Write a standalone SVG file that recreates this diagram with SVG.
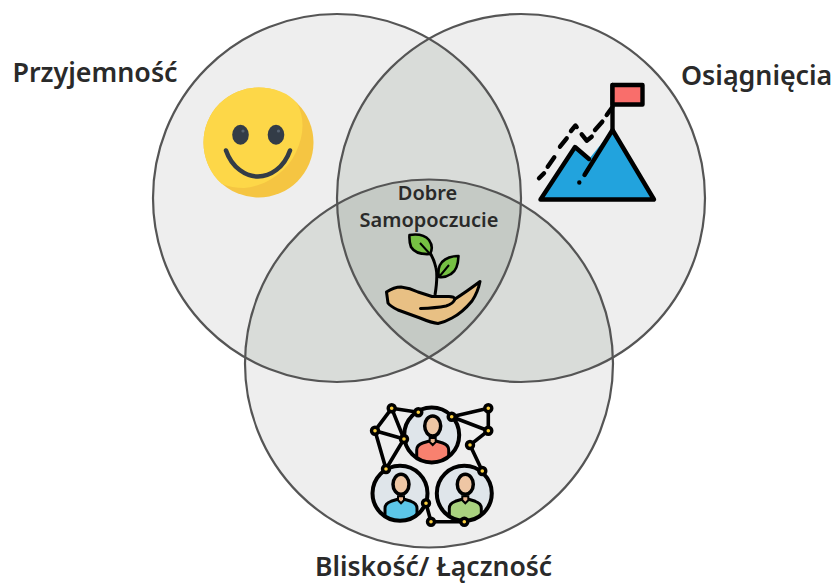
<svg xmlns="http://www.w3.org/2000/svg" width="832" height="584" viewBox="0 0 832 584">
<style>
.lbl{font-family:"Noto Sans","Open Sans","Liberation Sans",sans-serif;font-weight:600;fill:#2a2a2a}
.big{font-size:26.800px}.small{font-size:20px}
.ring{fill:none;stroke:#555;stroke-width:2.2}
.k{fill:none;stroke:#000;stroke-width:4.400;stroke-linecap:round;stroke-linejoin:round}
.e{stroke:#000;stroke-width:3.600;fill:none}
.n{fill:#fbcf3f;stroke:#000;stroke-width:3.400}
</style>
<defs>
<circle id="ca" cx="337" cy="198" r="184"/>
<circle id="cb" cx="521" cy="198" r="184"/>
<circle id="cc" cx="429" cy="363.500" r="184"/>
<clipPath id="pa"><use href="#ca"/></clipPath>
<clipPath id="pb"><use href="#cb"/></clipPath>
<clipPath id="pcirc"><circle r="27"/></clipPath>
<g id="person">
<circle r="27.500" fill="#dfe5ea"/>
<g clip-path="url(#pcirc)">
<path d="M-15 30V15Q-15 10-9 8L1 5L11 8Q17 10 17 15V30Z" fill="var(--c)" stroke="#000" stroke-width="3" stroke-linejoin="round"/>
</g>
<path d="M-2 3V7L1 10L4 7V3Z" fill="#e9b690" stroke="#000" stroke-width="2"/>
<ellipse cx="1" cy="-9" rx="8" ry="10" fill="#eec6a4" stroke="#000" stroke-width="3.500"/>
<circle r="27.500" fill="none" stroke="#000" stroke-width="4"/>
</g>
</defs>
<rect width="832" height="584" fill="#fff"/>
<g id="venn">
<use href="#ca" fill="#eeeeee"/>
<use href="#cb" fill="#eeeeee"/>
<use href="#cc" fill="#eeeeee"/>
<g clip-path="url(#pa)"><use href="#cb" fill="#d9dcd9"/></g>
<g clip-path="url(#pa)"><use href="#cc" fill="#d9dcd9"/></g>
<g clip-path="url(#pb)"><use href="#cc" fill="#d9dcd9"/></g>
<g clip-path="url(#pa)"><g clip-path="url(#pb)"><use href="#cc" fill="#c5cac5"/></g></g>
<use href="#ca" class="ring"/>
<use href="#cb" class="ring"/>
<use href="#cc" class="ring"/>
</g>
<g id="przyjemnosc">
<text class="lbl big" x="12.500" y="82">Przyjemność</text>
<circle cx="258.500" cy="142.500" r="55" fill="#f5c542"/>
<path d="M203.500 142.500A55 55 0 0 1 258.500 87.500Q283 87.500 297 103C305 118 304 136 296 152C288 170 268 186 244 188Q232 188 222 184C210 174 203.500 158 203.500 142.500Z" fill="#fdd748"/>
<ellipse cx="240.500" cy="134.700" rx="8.300" ry="10" fill="#333c47"/>
<ellipse cx="276" cy="134.700" rx="8.300" ry="10" fill="#333c47"/>
<circle cx="243" cy="131" r="1.600" fill="#566270"/>
<circle cx="278.500" cy="131" r="1.600" fill="#566270"/>
<path d="M226 150.500C232 168 246 176.500 258 176.500S284 168 290 150.500" fill="none" stroke="#333c47" stroke-width="4.500" stroke-linecap="round"/>
</g>
<g id="osiagniecia">
<text class="lbl big" x="681" y="84.500">Osiągnięcia</text>
<path class="k" d="M612.500 130V85"/>
<rect class="k" x="612.500" y="85" width="30" height="19.500" style="fill:#f96e6b"/>
<path d="M540.500 199.500L575 147L589 159L612.500 130L654 199.500Z" fill="#22a3dd"/>
<path class="k" d="M540.500 199.500L575 147L589 159M612.500 130L584.500 175M612.500 130L654 199.500H540.500M579.300 182.500V182.500M539 178.300L544 173.300M547.700 166.700L554.300 157.300M560 146.700L566.700 138.300M571 131L575.500 125.500L576.700 127M581.700 134.300L586.700 140.700L591.700 136.700M595 130L602.300 121.700M606.700 115L612.300 107.300"/>
</g>
<g id="dobre-samopoczucie">
<text class="lbl small" x="427.500" y="200" text-anchor="middle">Dobre</text>
<text class="lbl small" x="429" y="227" text-anchor="middle">Samopoczucie</text>
<path d="M435 295Q438 276 436 268Q434 259 430 253" fill="none" stroke="#000" stroke-width="3"/>
<path d="M409.500 235Q423 233 429 240Q434 247 430 254Q416 255 411 247Q409 241 409.500 235Z" fill="#76c043" stroke="#000" stroke-width="2.600" stroke-linejoin="round"/>
<path d="M458.500 256Q458 270 451 274Q445 278 439 277Q437 268 442 262Q448 256 458.500 256Z" fill="#76c043" stroke="#000" stroke-width="2.600" stroke-linejoin="round"/>
<path d="M430 254L420 243M439 277L449 265" stroke="#000" stroke-width="2" fill="none"/>
<path d="M386.500 292Q394 287 401 287Q410 288 418 292L432 296.500H449Q454 296.500 455 299Q466 292 480 281.500Q478 292 472 301Q462 313 452 318Q445 322 438 323.500Q432 323 420 318L398 310Q390 306 388 303Z" fill="#e8c084" stroke="#000" stroke-width="3" stroke-linejoin="round"/>
<path d="M420.500 308.500Q436 308 446 306Q453 304 455 299" fill="none" stroke="#000" stroke-width="3" stroke-linecap="round"/>
</g>
<g id="bliskosc-lacznosc">
<text class="lbl" x="315" y="576" style="font-size:26.500px">Bliskość/ Łączność</text>
<path class="e" d="M391.700 408.300L418.300 412.300M391.700 408.300L375 430.700M391.700 408.300L404 439M375 430.700L404 439M375 430.700L386 469M404 439L386 469M451.700 416.700L488.300 408.300M451.700 416.700L488.300 430.700M488.300 408.300V430.700M488.300 430.700L470 445L482.300 471M426 503.300L431 521.700H464.300"/>
<use href="#person" x="431.700" y="435" style="--c:#f8816f"/>
<use href="#person" x="400" y="493.300" style="--c:#5cc6e8"/>
<use href="#person" x="464.300" y="493.300" style="--c:#a9d27f"/>
<g class="n">
<circle cx="391.700" cy="408.300" r="3.500"/><circle cx="418.300" cy="412.300" r="3.500"/><circle cx="451.700" cy="416.700" r="3.500"/><circle cx="488.300" cy="408.300" r="3.500"/><circle cx="488.300" cy="430.700" r="3.500"/><circle cx="470" cy="445" r="3.500"/><circle cx="482.300" cy="471" r="3.500"/><circle cx="375" cy="430.700" r="3.500"/><circle cx="404" cy="439" r="3.500"/><circle cx="386" cy="469" r="3.500"/><circle cx="426" cy="503.300" r="3.500"/><circle cx="431" cy="521.700" r="3.500"/><circle cx="464.300" cy="521.700" r="3.500"/>
</g>
</g>
</svg>
